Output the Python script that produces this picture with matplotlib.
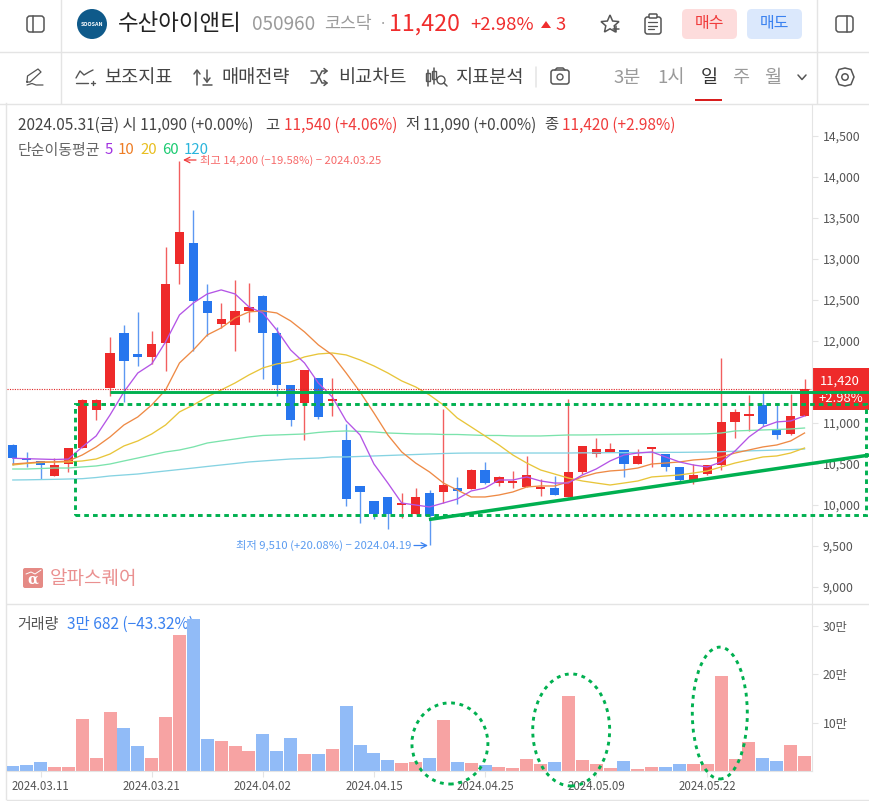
import matplotlib
matplotlib.use("Agg")
import matplotlib.pyplot as plt
from matplotlib.patches import Rectangle, FancyBboxPatch, Circle, Ellipse, Polygon

plt.rcParams['font.family'] = ['Noto Sans CJK KR', 'DejaVu Sans']
plt.rcParams['axes.unicode_minus'] = True

# ---------- data ----------
opens = [10732,10573,10537,10354,10500,10695,11159,11424,12098,11842,11809,11980,12944,13196,12489,12212,12200,12367,12550,12098,11464,11241,11549,11269,10793,10232,10049,10098,10000,9890,10146,10159,10207,10195,10427,10268,10268,10220,10195,10207,10098,10403,10622,10647,10671,10500,10683,10622,10464,10305,10378,10488,11013,11086,11220,10915,10866,11090]
closes = [10573,10549,10488,10488,10695,11281,11281,11854,11760,11809,11964,12696,13331,12492,12346,12269,12367,12416,12102,11468,11041,11647,11074,11293,10073,10159,9890,9890,10024,10098,9866,10244,10171,10427,10268,10342,10293,10366,10220,10122,10403,10720,10683,10683,10500,10598,10708,10464,10305,10366,10488,11013,11135,11110,10988,10854,11086,11420]
highs = [10744,10647,10537,10573,10695,11293,11293,12050,12196,12355,12123,13148,14200,13599,12696,12464,12745,12708,12562,12172,11464,11647,11549,11549,10988,10232,10049,10098,10146,10207,10183,11171,10342,10436,10525,10354,10415,10598,10317,10354,11293,10720,10817,10756,10671,10683,10708,10622,10464,10500,10488,11793,11171,11342,11366,11232,11354,11540]
lows = [10488,10464,10317,10354,10403,10695,11037,11333,11260,11696,11720,11638,12696,11882,12062,12159,11879,12233,11537,11333,10967,10793,11049,11089,9990,9784,9829,9711,9845,9890,9510,10024,10012,10195,10256,10232,10207,10220,10110,10122,10098,10378,10586,10647,10342,10500,10464,10415,10281,10256,10366,10427,10817,10903,10964,10805,10854,11090]
volumes = [1.0,1.2,1.9,0.8,0.8,10.8,2.7,12.2,8.9,5.2,2.7,11.2,28.2,31.5,6.6,6.2,5.2,4.1,7.7,4.1,6.8,3.5,3.5,4.6,13.5,5.4,3.7,2.3,1.7,1.9,2.7,10.6,1.9,1.7,1.2,0.8,0.6,2.5,1.4,1.9,15.5,2.3,1.4,0.6,2.1,0.4,0.8,0.8,1.4,1.4,1.4,19.7,2.5,6.0,2.7,2.1,5.4,3.1]
ma5 = [10570,10565,10560,10555,10560,10708,10842,11098,11379,11610,11720,11989,12318,12464,12574,12623,12574,12416,12342,12135,11891,11732,11488,11318,11025,10854,10500,10268,10024,10000,9976,10024,10073,10171,10207,10305,10305,10342,10293,10268,10268,10366,10439,10537,10610,10634,10647,10586,10525,10488,10464,10525,10659,10830,10952,11013,11025,11086]
ma10 = [10500,10512,10525,10525,10537,10610,10708,10830,10976,11074,11220,11403,11732,11891,12074,12159,12281,12355,12367,12342,12245,12111,11952,11830,11610,11379,11122,10854,10647,10512,10403,10268,10183,10098,10098,10122,10159,10220,10232,10232,10281,10342,10390,10415,10427,10451,10500,10512,10525,10549,10561,10586,10634,10671,10708,10732,10781,10878]
ma20 = [10488,10506,10518,10525,10525,10537,10561,10622,10720,10781,10866,10976,11135,11220,11318,11403,11488,11586,11671,11720,11745,11806,11842,11854,11830,11769,11696,11610,11513,11440,11342,11220,11061,10952,10842,10732,10610,10512,10427,10378,10329,10293,10268,10244,10268,10293,10342,10354,10366,10390,10415,10464,10512,10549,10586,10598,10634,10695]
ma60 = [10439,10439,10445,10451,10451,10464,10476,10500,10537,10573,10610,10647,10671,10708,10756,10781,10805,10830,10848,10854,10860,10866,10885,10897,10903,10897,10891,10878,10872,10866,10866,10860,10860,10854,10848,10848,10842,10842,10842,10848,10854,10854,10856,10858,10860,10861,10862,10864,10865,10866,10868,10878,10903,10909,10915,10921,10927,10939]
ma120 = [10305,10307,10310,10313,10317,10321,10335,10354,10366,10378,10397,10415,10433,10451,10470,10488,10506,10525,10537,10549,10561,10567,10573,10586,10586,10592,10598,10604,10610,10616,10622,10628,10632,10634,10634,10634,10634,10634,10634,10634,10634,10636,10636,10638,10638,10640,10640,10642,10642,10644,10646,10650,10655,10660,10665,10670,10675,10683]

date_positions = [2, 10, 18, 26, 34, 42, 50]
date_labels = ['2024.03.11', '2024.03.21', '2024.04.02', '2024.04.15', '2024.04.25', '2024.05.09', '2024.05.22']
price_ticks = [9000, 9500, 10000, 10500, 11000, 12000, 12500, 13000, 13500, 14000, 14500]
volume_ticks = [10, 20, 30]
last_price = 11420
support_price = 11378
box_x = (4.48, 61.4)
box_price = (9878, 11232)
trend_x = (29.96, 61.7)
trend_price = (9823, 10610)
circled_volume = [(31.47, 5.7, 5.47, 16.8), (40.2, 8.5, 5.54, 23.2), (50.9, 12.0, 3.96, 27.3)]

# ---------- colours ----------
RED, BLUE = '#ee2a2a', '#2776ee'
VRED, VBLUE = '#f7a3a3', '#91bbf7'
LINE, TXT, GRAY, DARK = '#e4e4e4', '#555555', '#9a9a9a', '#222222'
ANN = '#00b050'
C5, C10, C20, C60, C120 = '#b455e6', '#ee8a45', '#e8c53a', '#7be3ac', '#86d3e2'

W, H = 870, 801
px = lambda v: v * 0.72
fig = plt.figure(figsize=(W / 100, H / 100), dpi=100, facecolor='white')


def box(l, t, r, b):
    return [l / W, 1 - b / H, (r - l) / W, (b - t) / H]


# ---------- chrome layer ----------
ui = fig.add_axes([0, 0, 1, 1], zorder=1)
ui.set_xlim(0, W)
ui.set_ylim(H, 0)
ui.axis('off')


def T(x, y, s, size, color=TXT, ha='left', weight='normal', **kw):
    return ui.text(x, y, s, fontsize=px(size), color=color, ha=ha, va='center', weight=weight, **kw)


def L(xs, ys, color=TXT, lw=1.1, **kw):
    ui.plot(xs, ys, color=color, lw=lw, solid_capstyle='round', **kw)


def rrect(l, t, r, b, rad=3, fc='none', ec=TXT, lw=1.1):
    ui.add_patch(FancyBboxPatch((l + rad, t + rad), r - l - 2 * rad, b - t - 2 * rad,
                                boxstyle=f'round,pad={rad},rounding_size={rad}', fc=fc, ec=ec, lw=lw))


for xs, ys in [((0, W), (51.5, 51.5)), ((0, W), (103.5, 103.5)), ((61.5, 61.5), (0, 103)),
               ((817.5, 817.5), (0, 103)), ((6.5, 6.5), (103, 799)), ((7, W), (603.5, 603.5)),
               ((7, W), (799.5, 799.5))]:
    ui.plot(xs, ys, color=LINE, lw=1.0)

# header row
rrect(27, 16, 44, 32, rad=3)
L((33, 33), (16, 32))
ui.add_patch(Circle((92, 24), 15, fc='#0f5a8a', ec='none'))
ui.text(92, 24, 'SOOSAN', fontsize=3.9, color='white', ha='center', va='center', weight='bold', style='italic')
T(118, 24, '수산아이앤티', 22.4, DARK, weight='medium')
T(252, 24.5, '050960', 19, GRAY)
T(324, 24, '코스닥', 17.3, GRAY)
T(379, 24, '·', 15, GRAY)
T(389, 24.5, '11,420', 23.2, '#f02d2d', weight='medium')
T(470, 24.5, '+2.98%', 18.5, '#f02d2d')
ui.add_patch(Polygon([(541, 28), (551, 28), (546, 21)], fc='#f02d2d', ec='none'))
T(556, 24.5, '3', 18.5, '#f02d2d')
star = [(610, 15), (612.6, 21), (619, 21.6), (614.2, 25.8), (615.5, 32), (610, 28.8), (604.5, 32), (605.8, 25.8), (601, 21.6), (607.4, 21)]
ui.add_patch(Polygon(star, fc='white', ec='#555555', lw=1.1))
L((613, 619), (29, 29)); L((616, 616), (26, 32))
rrect(645, 17, 661, 34, rad=2.5)
rrect(649, 14, 657, 18, rad=1, fc='white')
for y in (22, 25.5, 29):
    L((648.5, 657.5 if y < 29 else 654), (y, y), lw=0.9)
rrect(682, 9, 737, 39, rad=5, fc='#fddcdc', ec='none', lw=0)
T(709.5, 23.5, '매수', 16, '#f03c3c', ha='center', weight='medium')
rrect(747, 9, 802, 39, rad=5, fc='#dbe8fc', ec='none', lw=0)
T(774.5, 23.5, '매도', 16, '#3b82f0', ha='center', weight='medium')
rrect(836, 16, 853, 32, rad=3)
L((847, 847), (16, 32))

# toolbar row
ui.plot([27, 27.5, 38, 41, 30, 27], [82, 76, 69, 72, 82, 82], color=TXT, lw=0.9)
L((27, 32, 36, 43), (85, 83.5, 85, 85), lw=0.9)
L((76, 80, 84, 89, 93), (78, 71, 75, 72, 70), lw=1); L((76, 88), (83, 83), lw=1); L((91, 95), (83, 83), lw=1); L((93, 93), (81, 85), lw=1)
T(104, 77.5, '보조지표', 18.6, '#444444', weight='medium')
L((197, 197), (71, 85)); L((194, 197, 200), (74, 70, 74)); L((207, 207), (70, 82)); L((204, 207, 210), (78, 82, 78)); L((203, 212), (85, 85))
T(221, 77.5, '매매전략', 18.6, '#444444', weight='medium')
L((311, 316, 322, 327), (71, 71, 83, 83)); L((311, 316, 322, 327), (83, 83, 71, 71))
L((324, 327, 324), (68.5, 71, 73.5)); L((324, 327, 324), (80.5, 83, 85.5))
T(338, 77.5, '비교차트', 18.6, '#444444', weight='medium')
L((428, 428), (70, 86)); ui.add_patch(Rectangle((426, 73), 4, 8, fc='white', ec=TXT, lw=1))
L((434, 434), (68, 84)); ui.add_patch(Rectangle((432, 71), 4, 8, fc='white', ec=TXT, lw=1))
ui.add_patch(Circle((441, 80), 4, fc='white', ec=TXT, lw=1)); L((444, 447), (83, 86))
T(455, 77.5, '지표분석', 18.6, '#444444', weight='medium')
L((536.5, 536.5), (67, 87), color=LINE)
rrect(551, 70, 569, 84, rad=2.5)
L((555, 557, 563, 565), (70, 68, 68, 70))
ui.add_patch(Circle((560, 77), 3, fc='white', ec=TXT, lw=1))
T(614, 77.5, '3분', 18.6, GRAY, weight='medium')
T(657, 77.5, '1시', 18.6, GRAY, weight='medium')
T(709, 77.5, '일', 18.6, '#333333', ha='center', weight='medium')
T(741, 77.5, '주', 18.6, GRAY, ha='center', weight='medium')
T(773, 77.5, '월', 18.6, GRAY, ha='center', weight='medium')
L((798, 802, 806), (75, 79.5, 75), color='#555555')
ui.add_patch(Rectangle((695, 99), 27, 2.2, fc='#d81e1e', ec='none'))
gear = [(845, 68), (851, 69.5), (854, 77), (851, 84.5), (845, 86), (839, 84.5), (836, 77), (839, 69.5)]
ui.add_patch(Polygon(gear, fc='white', ec=TXT, lw=1.1))
ui.add_patch(Circle((845, 77), 3.2, fc='white', ec=TXT, lw=1.1))

# info lines
T(18, 125, '2024.05.31(금) 시 11,090 (+0.00%)', 15.4, '#444444')
T(265, 125, '고', 15.4, '#444444')
T(284, 125, '11,540 (+4.06%)', 15.4, '#f03c3c')
T(405, 125, '저', 15.4, '#444444')
T(423, 125, '11,090 (+0.00%)', 15.4, '#444444')
T(544, 125, '종', 15.4, '#444444')
T(562, 125, '11,420 (+2.98%)', 15.4, '#f03c3c')
T(18, 150.5, '단순이동평균', 15, '#666666')
T(105, 150.5, '5', 15, '#a030e0')
T(118, 150.5, '10', 15, '#ee7d25')
T(140, 150.5, '20', 15, '#e8be20')
T(162, 150.5, '60', 15, '#1ccb72')
T(184, 150.5, '120', 15, '#2bb5dc')

# extreme labels
ui.annotate('', xy=(183, 160), xytext=(196, 160), arrowprops=dict(arrowstyle='->', color='#f03c3c', lw=0.9, shrinkA=0, shrinkB=0))
T(200, 160.5, '최고 14,200 (−19.58%) − 2024.03.25', 11.3, '#f76a6a')
T(236, 545, '최저 9,510 (+20.08%) − 2024.04.19', 11.3, '#5c9cf0')
ui.annotate('', xy=(428, 545.5), xytext=(414, 545.5), arrowprops=dict(arrowstyle='->', color='#3b82f0', lw=0.9, shrinkA=0, shrinkB=0))

# watermark
rrect(23, 568, 43, 588, rad=2, fc='#e58a85', ec='none', lw=0)
ui.text(33, 580, 'α', fontsize=px(14), color='white', ha='center', va='center', weight='bold', family=['DejaVu Serif'])
L((26, 31, 35, 41), (574, 572, 574, 570), color='white', lw=0.7)
T(50, 578, '알파스퀘어', 19, '#ea9090', weight='medium')

# volume legend
T(17, 624.5, '거래량', 15, '#555555')
T(67, 624.5, '3만 682 (−43.32%)', 15.5, '#3b82f0', zorder=5)

# last price badge
ui.add_patch(Rectangle((812, 368), 58, 42, fc=RED, ec='none'))
T(820, 381, '11,420', 13, 'white')
T(819, 399, '+2.98%', 13, 'white')

# ---------- price panel ----------
n = len(opens)
idx = list(range(n))
XL = ((7 - 12.8) / 13.89, (812 - 12.8) / 13.89)
ax = fig.add_axes(box(7, 104, 812, 603), zorder=2, facecolor='none')
ax.set_xlim(*XL)
ax.set_ylim(10000 - 98 / 0.082, 10000 + 401 / 0.082)
for s in ax.spines.values():
    s.set_visible(False)
ax.spines['right'].set_visible(True)
ax.spines['right'].set_color(LINE)
ax.xaxis.set_visible(False)
ax.yaxis.tick_right()
ax.set_yticks(price_ticks)
ax.set_yticklabels([f'{v:,}' for v in price_ticks])
ax.tick_params(axis='y', length=4, width=0.8, color=LINE, labelcolor=TXT, labelsize=px(12.2), pad=3.6)

up = [c >= o for o, c in zip(opens, closes)]
ccol = [RED if u else BLUE for u in up]
ax.vlines(idx, lows, highs, colors=ccol, lw=1.0, alpha=0.75, zorder=2)
ax.bar(idx, [abs(c - o) for o, c in zip(opens, closes)], bottom=[min(o, c) for o, c in zip(opens, closes)],
       width=0.66, color=ccol, zorder=3)
for vals, col in [(ma120, C120), (ma60, C60), (ma20, C20), (ma10, C10), (ma5, C5)]:
    ax.plot(idx, vals, color=col, lw=0.95, zorder=4)
ax.axhline(last_price, color='#e02828', lw=0.8, ls=(0, (1, 1.2)), zorder=5)

# hand-drawn annotations
ax.plot([7.0, 61.7], [support_price, support_price], color=ANN, lw=2.1, clip_on=False, zorder=6, solid_capstyle='butt')
ax.plot(trend_x, trend_price, color=ANN, lw=2.5, clip_on=False, zorder=6, solid_capstyle='butt')
ax.add_patch(Rectangle((box_x[0], box_price[0]), box_x[1] - box_x[0], box_price[1] - box_price[0],
                       fc='none', ec=ANN, lw=2.1, ls=(0, (1.6, 1.4)), clip_on=False, zorder=6))

# ---------- volume panel ----------
vx = fig.add_axes(box(7, 604, 812, 771), zorder=2, facecolor='none')
vx.set_xlim(*XL)
vx.set_ylim(0, 167 / 4.83)
for s in vx.spines.values():
    s.set_visible(False)
vx.spines['bottom'].set_visible(True)
vx.spines['bottom'].set_color(LINE)
vx.spines['right'].set_visible(True)
vx.spines['right'].set_color(LINE)
vx.yaxis.tick_right()
vx.set_yticks(volume_ticks)
vx.set_yticklabels([f'{v}만' for v in volume_ticks])
vx.tick_params(axis='y', length=4, width=0.8, color=LINE, labelcolor=TXT, labelsize=px(12.2), pad=3.6)
vx.set_xticks(date_positions)
vx.set_xticklabels(date_labels)
vx.tick_params(axis='x', length=4, width=0.8, color=LINE, labelcolor=TXT, labelsize=px(11.5), pad=2.5)
vx.bar(idx, volumes, width=0.94, color=[VRED if u else VBLUE for u in up], zorder=2)
for cx, cy, w, h in circled_volume:
    vx.add_patch(Ellipse((cx, cy), w, h, fc='none', ec=ANN, lw=2.1, ls=(0, (1.3, 1.6)), clip_on=False, zorder=6))

fig.savefig('out.png', dpi=100)
